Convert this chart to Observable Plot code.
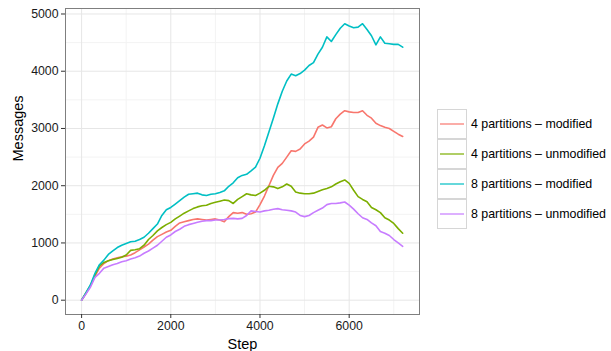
<!DOCTYPE html>
<html><head><meta charset="utf-8">
<script src="https://cdn.jsdelivr.net/npm/d3@7"></script>
<script src="https://cdn.jsdelivr.net/npm/@observablehq/plot@0.6"></script>
<style>
body{margin:0;background:#fff;font-family:"Liberation Sans",Arial,Helvetica,sans-serif;}
#wrap{position:relative;width:611px;height:351px;overflow:hidden;}
#legend{position:absolute;left:437px;top:109px;}
.item{position:relative;height:30px;}
.box{position:absolute;left:0;top:0;width:30px;height:31px;}
.lab{position:absolute;left:34px;top:8px;font-size:12.4px;color:#000;white-space:nowrap;}
</style>
</head><body>
<div id="wrap"><div id="chart"></div><div id="legend"></div></div>
<script>
const seriesNames = ["4 partitions – modified","4 partitions – unmodified","8 partitions – modified","8 partitions – unmodified"];
const seriesColors = ["#F8766D","#7CAE00","#00BFC4","#C77CFF"];
const steps = [0,100,200,300,400,500,600,700,800,900,1000,1100,1200,1300,1400,1500,1600,1700,1800,1900,2000,2100,2200,2300,2400,2500,2600,2700,2800,2900,3000,3100,3200,3300,3400,3500,3600,3700,3800,3900,4000,4100,4200,4300,4400,4500,4600,4700,4800,4900,5000,5100,5200,5300,5400,5500,5600,5700,5800,5900,6000,6100,6200,6300,6400,6500,6600,6700,6800,6900,7000,7100,7200];
const p4mod = [0,120,250,420,560,640,690,720,740,760,770,790,830,880,930,980,1050,1110,1150,1190,1220,1290,1350,1370,1390,1410,1420,1410,1400,1410,1420,1400,1370,1460,1530,1520,1530,1500,1510,1540,1670,1820,2000,2180,2320,2390,2500,2610,2600,2640,2730,2780,2850,3020,3060,3010,3030,3170,3250,3310,3290,3280,3280,3310,3230,3180,3090,3050,3020,3000,2950,2900,2860];
const p4unmod = [0,130,260,440,600,660,690,710,730,750,790,870,880,900,960,1060,1130,1210,1270,1320,1360,1420,1470,1520,1560,1600,1630,1650,1660,1690,1710,1730,1750,1740,1690,1760,1810,1860,1840,1830,1870,1920,1990,1980,1950,1980,2030,1990,1890,1870,1860,1860,1870,1900,1930,1950,1980,2030,2070,2100,2040,1920,1810,1760,1720,1620,1580,1530,1440,1400,1340,1250,1170];
const p8mod = [0,130,270,470,620,700,800,860,920,960,990,1020,1030,1060,1100,1170,1250,1330,1480,1580,1620,1680,1740,1800,1850,1860,1870,1840,1830,1850,1860,1880,1910,1990,2050,2140,2180,2200,2260,2325,2480,2700,2940,3180,3430,3650,3830,3950,3920,3960,4020,4100,4150,4300,4420,4600,4520,4640,4750,4830,4790,4760,4770,4830,4730,4620,4460,4600,4490,4480,4470,4470,4420];
const p8unmod = [0,110,230,400,470,560,590,620,640,670,690,720,740,770,820,860,910,960,1030,1100,1140,1200,1240,1290,1320,1340,1360,1380,1390,1390,1400,1400,1410,1425,1430,1420,1430,1480,1560,1550,1540,1560,1570,1590,1600,1580,1570,1560,1540,1480,1460,1480,1530,1570,1610,1670,1690,1690,1700,1715,1660,1590,1510,1440,1410,1350,1300,1200,1170,1130,1060,1000,940];
const xMajor = [0,2000,4000,6000];
const xMinor = [1000,3000,5000,7000];
const yMajor = [0,1000,2000,3000,4000,5000];
const yMinor = [500,1500,2500,3500,4500];

const allValues = [p4mod,p4unmod,p8mod,p8unmod];
const data = [];
allValues.forEach((arr,i)=>arr.forEach((v,j)=>data.push({series:seriesNames[i],step:steps[j],value:v})));

const chart = Plot.plot({
  width:611, height:351,
  marginLeft:65, marginRight:192, marginTop:8, marginBottom:37,
  style:{fontFamily:'"Liberation Sans",Arial,Helvetica,sans-serif',fontSize:"12px",background:"#fff",color:"#1a1a1a"},
  x:{domain:[-361,7577]},
  y:{domain:[-250,5096]},
  color:{domain:seriesNames, range:seriesColors},
  marks:[
    Plot.ruleX(xMinor,{stroke:"#f3f3f3",strokeWidth:1}),
    Plot.ruleY(yMinor,{stroke:"#f3f3f3",strokeWidth:1}),
    Plot.ruleX(xMajor,{stroke:"#e6e6e6",strokeWidth:1}),
    Plot.ruleY(yMajor,{stroke:"#e6e6e6",strokeWidth:1}),
    Plot.line(data,{x:"step",y:"value",z:"series",stroke:"series",strokeWidth:1.6}),
    Plot.frame({stroke:"#7f7f7f",strokeWidth:1}),
    Plot.axisX({ticks:xMajor,tickSize:4,tickPadding:3,tickFormat:d=>String(d),label:null,fontSize:12.3,stroke:"#333"}),
    Plot.axisY({ticks:yMajor,tickSize:4,tickPadding:3,tickFormat:d=>String(d),label:null,fontSize:12.3,stroke:"#333"}),
    Plot.text(["Step"],{frameAnchor:"bottom",dy:34,lineAnchor:"bottom",text:d=>d,fontSize:14.5,fill:"#000"}),
    Plot.text(["Messages"],{frameAnchor:"left",dx:-47,rotate:-90,text:d=>d,fontSize:14.5,fill:"#000"})
  ]
});
document.getElementById("chart").appendChild(chart);

const leg = d3.select("#legend");
seriesNames.forEach((n,i)=>{
  const it = leg.append("div").attr("class","item");
  const svg = it.append("svg").attr("class","box").attr("width",31).attr("height",31);
  svg.append("rect").attr("x",0.5).attr("y",0.5).attr("width",29).attr("height",29).attr("fill","#fff").attr("stroke","#d6d6d6");
  svg.append("line").attr("x1",3).attr("x2",27).attr("y1",15).attr("y2",15).attr("stroke",seriesColors[i]).attr("stroke-width",1.2);
  it.append("div").attr("class","lab").text(n);
});
</script>
</body></html>
